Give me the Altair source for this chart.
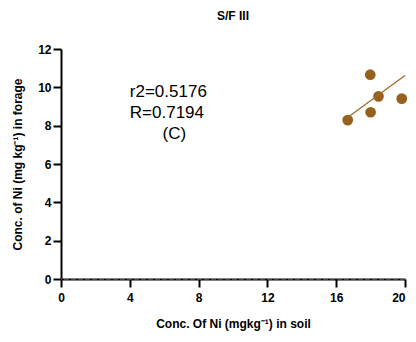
import altair as alt
import pandas as pd

soil_x = [16.67, 17.98, 18.46, 18.0, 19.81]
forage_y = [8.29, 10.66, 9.53, 8.70, 9.41]
fit_x = [16.7, 20.0]
fit_y = [8.45, 10.62]
ann_text = ["r2=0.5176", "R=0.7194", "(C)"]
ann_x = [4.0, 4.0, 5.9]
ann_y = [9.75, 8.66, 7.56]
x_ticks = [0, 4, 8, 12, 16, 20]
y_ticks = [0, 2, 4, 6, 8, 10, 12]

pts = pd.DataFrame({"x": soil_x, "y": forage_y})
fit = pd.DataFrame({"x": fit_x, "y": fit_y})
ann = pd.DataFrame({"t": ann_text, "x": ann_x, "y": ann_y})
zero = pd.DataFrame({"y": [0]})

FONT = "Liberation Sans"
xs = alt.Scale(domain=[0, 20], nice=False, zero=False)
ys = alt.Scale(domain=[0, 12], nice=False, zero=False)

xax = alt.Axis(values=x_ticks, title="Conc. Of Ni (mgkg⁻¹) in soil", grid=False, labelOverlap=False,
               labelAlign={"condition": {"test": "datum.value == 20", "value": "right"}, "value": "center"},
               domainColor="black", domainWidth=2, tickColor="black", tickWidth=2, tickSize=8,
               labelFont=FONT, labelFontWeight="bold", labelFontSize=12, labelColor="black",
               titleFont=FONT, titleFontWeight="bold", titleFontSize=12, titleColor="black",
               labelPadding=5, titlePadding=15)
yax = alt.Axis(values=y_ticks, title="Conc. of Ni (mg kg⁻¹) in forage", grid=False, labelOverlap=False,
               domainColor="black", domainWidth=2, tickColor="black", tickWidth=2, tickSize=8,
               labelFont=FONT, labelFontWeight="bold", labelFontSize=12, labelColor="black",
               titleFont=FONT, titleFontWeight="bold", titleFontSize=12, titleColor="black",
               labelPadding=2, titlePadding=13)

X = alt.X("x:Q", scale=xs, axis=xax)
Y = alt.Y("y:Q", scale=ys, axis=yax)

zline = alt.Chart(zero).mark_rule(color="#888888", strokeDash=[5, 2], strokeWidth=1).encode(y=Y)
line = alt.Chart(fit).mark_line(color="#A06A2C", strokeWidth=1.3).encode(x=X, y=Y)
points = alt.Chart(pts).mark_circle(size=115, color="#96601E", opacity=1).encode(x=X, y=Y)
text = alt.Chart(ann).mark_text(align="left", baseline="middle", font=FONT, fontSize=17, color="black").encode(
    x=X, y=Y, text="t:N"
)

chart = alt.layer(points, line, zline, text).properties(
    width=344, height=230,
    title=alt.TitleParams("S/F III", font=FONT, fontSize=12, fontWeight="bold", color="black", offset=20),
    autosize=alt.AutoSizeParams(type="none"),
    padding={"left": 53, "top": 41, "right": 2, "bottom": 54},
).configure_view(stroke=None)

chart.save("out.html", embed_options={"renderer": "svg", "actions": False})
